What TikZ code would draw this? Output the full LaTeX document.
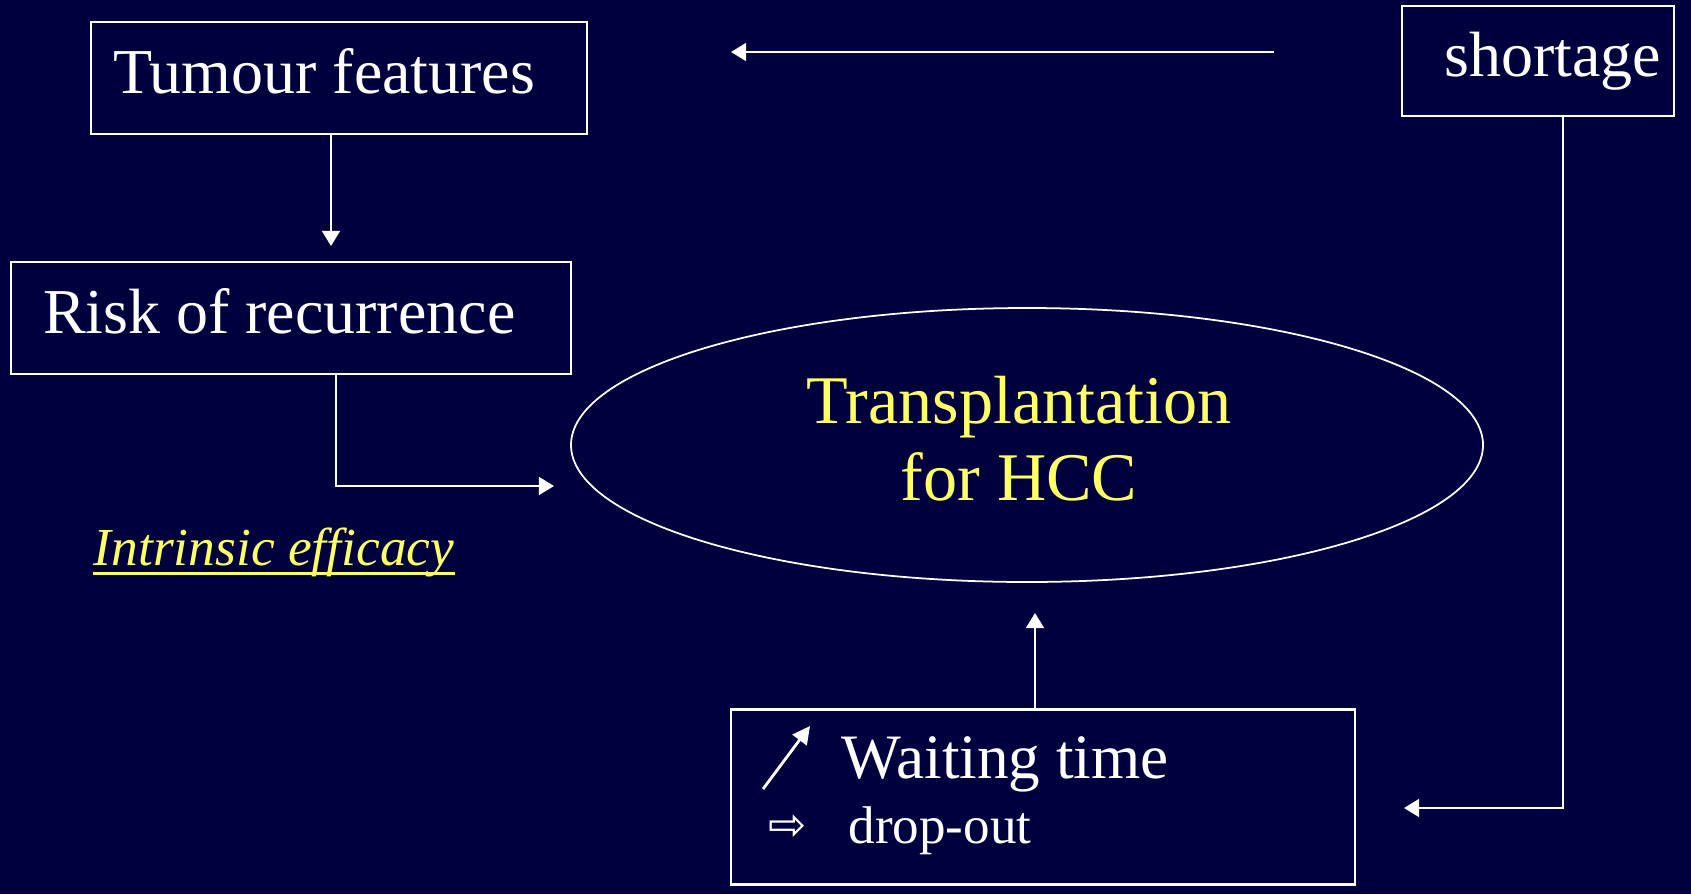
\documentclass[tikz,border=0pt]{standalone}
\usepackage{fontspec}
\setmainfont{Liberation Serif}
\newfontfamily\symbfont{DejaVu Sans}
\usetikzlibrary{arrows.meta,shapes.geometric}
\definecolor{slidebg}{RGB}{0,0,62}
\definecolor{slideyellow}{RGB}{255,255,102}

\begin{document}
\begin{tikzpicture}[x=0.1mm,y=-0.1mm,
    box/.style={draw=white,line width=0.6pt,text=white,font=\fontsize{18.2}{22}\selectfont,
                minimum height=1.12cm,text depth=3.8pt},
    conn/.style={draw=white,line width=0.6pt,-{Triangle[length=4.3pt,width=5.1pt]}},
    label/.style={anchor=base west,inner sep=0pt}]
  % background of the slide
  \fill[slidebg] (0,0) rectangle (1691,894);

  % the boxes
  \node[box,minimum width=4.96cm,text width=4.52cm,inner xsep=2.2mm,align=flush left] (tumour) at (339,78) {Tumour features};
  \node[box,minimum width=5.6cm,text width=4.96cm,inner xsep=3.2mm,align=flush left] (risk) at (291,318) {Risk of recurrence};
  \node[box,minimum width=2.72cm,minimum height=1.1cm,text width=2.46cm,inner xsep=1.3mm,align=flush right] (shortage) at (1538,61) {shortage};
  \node[box,minimum width=6.24cm,minimum height=1.75cm] (waiting) at (1043,797) {};

  % the ellipse in the middle
  \node[draw=white,line width=0.5pt,ellipse,minimum width=9.12cm,minimum height=2.74cm] (hcc) at (1027,445) {};
  \node[text=slideyellow,align=center,inner sep=0pt,font=\fontsize{19.4}{21.9}\selectfont] (hcctext) at (1019,439) {Transplantation\\for HCC};

  % texts
  \node[label,text=slideyellow,font=\fontsize{15.2}{18}\selectfont\itshape] (eff) at (93,565) {Intrinsic efficacy};
  \draw[slideyellow,line width=0.85pt] ([yshift=-2.3pt]eff.base west) -- ([yshift=-2.3pt]eff.base east);
  \node[label,text=white,font=\fontsize{18}{22}\selectfont] (wtime) at (841,778) {Waiting time};
  \node[label,text=white,font=\fontsize{15.1}{18}\selectfont] (drop) at (848,843) {drop-out};
  \node[inner sep=0pt,text=white,font=\symbfont\fontsize{13}{15}\selectfont] (dropsym) at (788,828) {⇨};
  \coordinate (up0) at (763,789);
  \coordinate (up1) at (810,726);
  \draw[white,line width=0.8pt,-{Triangle[length=5pt,width=5pt]}] (up0) -- (up1);

  % connectors
  \coordinate (topR) at (1274,52);
  \coordinate (topL) at (731,52);
  \coordinate (riskin) at (331,246);
  \coordinate (hccin) at (554,486);
  \coordinate (waitin) at (1404,808);
  \coordinate (hccup) at (1035,613);
  \draw[conn] (topR) -- (topL);
  \draw[conn] (tumour.south -| riskin) -- (riskin);
  \draw[conn] ([xshift=0.45cm]risk.south) |- (hccin);
  \draw[conn] ([xshift=0.25cm]shortage.south) |- (waitin);
  \draw[conn] (waiting.north -| hccup) -- (hccup);
\end{tikzpicture}
\end{document}
